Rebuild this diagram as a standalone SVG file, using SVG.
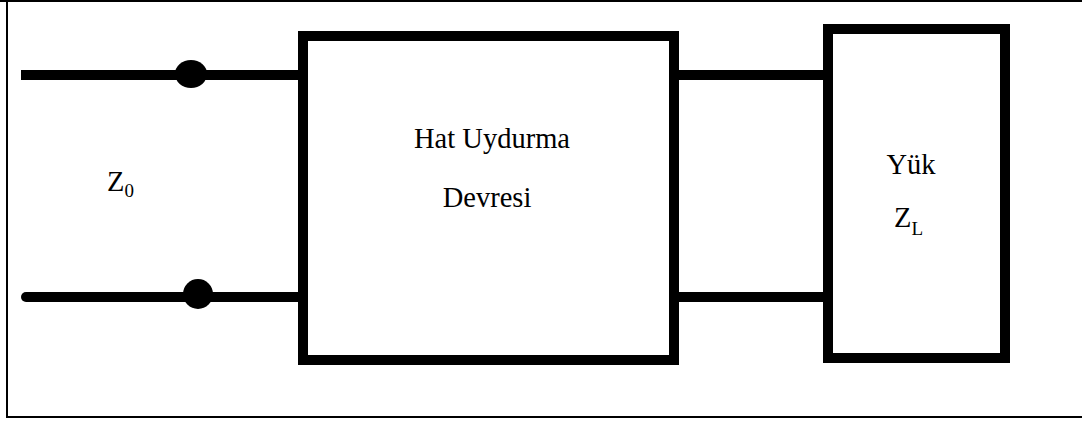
<svg xmlns="http://www.w3.org/2000/svg" width="1082" height="421" viewBox="0 0 1082 421">
<style>
.frame{stroke:#000;stroke-width:2;fill:none}
.box{stroke:#000;stroke-width:10;fill:#fff}
.wire{stroke:#000;stroke-width:10;fill:none}
.dot{fill:#000}
.t{font-family:'Liberation Serif','Times New Roman',serif;font-size:28.5px;fill:#000}
.sub{font-size:19px}
</style>
<rect width="1082" height="421" fill="#fff"/>
<g id="frame">
<line class="frame" x1="0" y1="1" x2="1082" y2="1"/>
<line class="frame" x1="7" y1="0" x2="7" y2="418"/>
<line class="frame" x1="6" y1="417" x2="1082" y2="417"/>
</g>
<g id="connectors">
<line class="wire" x1="21" y1="75" x2="300" y2="75"/>
<line class="wire" x1="26" y1="297" x2="300" y2="297" stroke-linecap="round"/>
<line class="wire" x1="676" y1="75" x2="826" y2="75"/>
<line class="wire" x1="676" y1="297" x2="826" y2="297"/>
<ellipse class="dot" cx="191" cy="74" rx="16" ry="14"/>
<circle class="dot" cx="198" cy="294" r="15"/>
</g>
<g id="source">
<text class="t" x="107" y="191">Z<tspan class="sub" dy="6">0</tspan></text>
</g>
<g id="matching">
<rect class="box" x="303" y="36" width="371" height="324"/>
<text class="t" x="492" y="148" text-anchor="middle">Hat Uydurma</text>
<text class="t" x="487" y="207" text-anchor="middle">Devresi</text>
</g>
<g id="load">
<rect class="box" x="828" y="29" width="177" height="329"/>
<text class="t" x="911" y="174" text-anchor="middle">Yük</text>
<text class="t" x="894" y="227">Z<tspan class="sub" dy="8">L</tspan></text>
</g>
</svg>
